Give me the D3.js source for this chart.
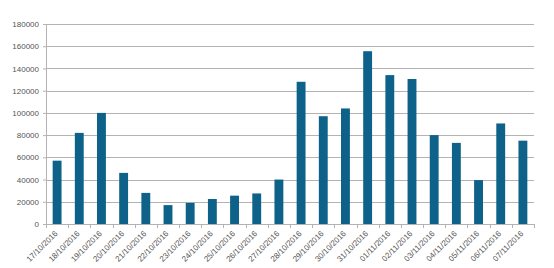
<!DOCTYPE html>
<html>
<head>
<meta charset="utf-8">
<script src="https://cdn.jsdelivr.net/npm/d3@7"></script>
<style>
  body { margin: 0; background: #fff; }
  svg { display: block; }
</style>
</head>
<body>
<div id="chart"></div>
<script>
const dates = ['17/10/2016', '18/10/2016', '19/10/2016', '20/10/2016', '21/10/2016', '22/10/2016',
  '23/10/2016', '24/10/2016', '25/10/2016', '26/10/2016', '27/10/2016', '28/10/2016',
  '29/10/2016', '30/10/2016', '31/10/2016', '01/11/2016', '02/11/2016', '03/11/2016',
  '04/11/2016', '05/11/2016', '06/11/2016', '07/11/2016'];
const values = [57000, 82000, 100000, 46000, 28000, 17000, 19000, 22500, 25500, 27500, 40000, 128000,
  97000, 104000, 155500, 134000, 130500, 80000, 73000, 39500, 90500, 75000];
const yTicks = [0, 20000, 40000, 60000, 80000, 100000, 120000, 140000, 160000, 180000];

const margin = { top: 24, right: 20, bottom: 44, left: 46 };
const width = 554 - margin.left - margin.right;
const height = 268 - margin.top - margin.bottom;

const svg = d3.select('#chart')
  .append('svg')
  .attr('width', 554)
  .attr('height', 268);

const g = svg.append('g')
  .attr('transform', 'translate(' + margin.left + ', ' + margin.top + ')');

const x = d3.scaleBand()
  .domain(dates)
  .range([0, width])
  .paddingInner(0.6)
  .paddingOuter(0.3);

const y = d3.scaleLinear()
  .domain([0, 180000])
  .range([height, 0]);

// gridlines
g.append('g')
  .selectAll('line')
  .data(yTicks.slice(1))
  .join('line')
  .attr('x1', 0)
  .attr('x2', width)
  .attr('y1', d => Math.round(y(d)) + 0.5)
  .attr('y2', d => Math.round(y(d)) + 0.5)
  .attr('stroke', '#b3b3b3')
  .attr('stroke-width', 1);

// bars
g.append('g')
  .selectAll('rect')
  .data(values)
  .join('rect')
  .attr('x', (d, i) => x(dates[i]))
  .attr('y', d => y(d))
  .attr('width', x.bandwidth())
  .attr('height', d => height - y(d))
  .attr('fill', '#0e6189');

// y axis
const yAxis = g.append('g')
  .call(d3.axisLeft(y).tickValues(yTicks).tickSize(3).tickPadding(4).tickFormat(d3.format('d')));
yAxis.select('.domain').attr('stroke', '#b3b3b3').attr('d', 'M-3,' + (height + 0.5) + 'H0.5V0.5');
yAxis.selectAll('.tick line').attr('stroke', '#b3b3b3');
yAxis.selectAll('text')
  .attr('fill', '#555')
  .style('font-family', 'Liberation Sans, Arial, sans-serif')
  .style('font-size', '8px');

// x axis with ticks at category boundaries
const xg = g.append('g')
  .attr('transform', 'translate(0, ' + height + ')');
xg.append('line')
  .attr('x1', 0).attr('x2', width)
  .attr('y1', 0.5).attr('y2', 0.5)
  .attr('stroke', '#b3b3b3');
const step = x.step();
const bounds = d3.range(dates.length + 1).map(i => x(dates[0]) - (step - x.bandwidth()) / 2 + i * step);
xg.selectAll('.xt')
  .data(bounds)
  .join('line')
  .attr('class', 'xt')
  .attr('x1', d => Math.round(d) + 0.5)
  .attr('x2', d => Math.round(d) + 0.5)
  .attr('y1', 0)
  .attr('y2', 4)
  .attr('stroke', '#b3b3b3');

xg.selectAll('text')
  .data(dates)
  .join('text')
  .attr('transform', d => 'translate(' + (x(d) + x.bandwidth() / 2 + 1) + ', 10) rotate(-45)')
  .attr('text-anchor', 'end')
  .attr('fill', '#555')
  .style('font-family', 'Liberation Sans, Arial, sans-serif')
  .style('font-size', '8px')
  .text(d => d);
</script>
</body>
</html>
